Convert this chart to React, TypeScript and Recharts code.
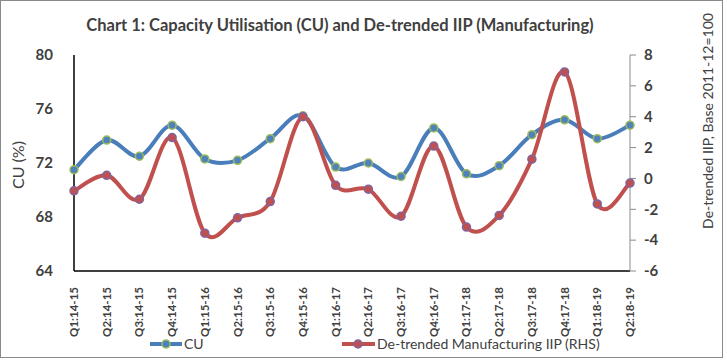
import { LineChart, Line, XAxis, YAxis, Legend } from "recharts";

const quarters = [
  "Q1:14-15", "Q2:14-15", "Q3:14-15", "Q4:14-15",
  "Q1:15-16", "Q2:15-16", "Q3:15-16", "Q4:15-16",
  "Q1:16-17", "Q2:16-17", "Q3:16-17", "Q4:16-17",
  "Q1:17-18", "Q2:17-18", "Q3:17-18", "Q4:17-18",
  "Q1:18-19", "Q2:18-19",
];
const cu = [
  71.5, 73.7, 72.5, 74.8, 72.3, 72.2, 73.8, 75.5, 71.7,
  72.0, 71.0, 74.6, 71.2, 71.8, 74.1, 75.2, 73.8, 74.8,
];
const iip = [
  -0.8, 0.2, -1.35, 2.65, -3.55, -2.55, -1.5, 4.0, -0.45,
  -0.7, -2.45, 2.1, -3.15, -2.4, 1.25, 6.9, -1.65, -0.3,
];
const cuTicks = [64, 68, 72, 76, 80];
const iipTicks = [-6, -4, -2, 0, 2, 4, 6, 8];

const data = quarters.map((q, i) => ({ q, cu: cu[i], iip: iip[i] }));

const FONT = "Lato, 'Open Sans', sans-serif";
const TEXT = "#404040";

// Excel-style smoothing (uniform Catmull-Rom as cubic Bezier)
function smoothCurve(context: any) {
  let pts: number[][] = [];
  return {
    areaStart() {},
    areaEnd() {},
    lineStart() {
      pts = [];
    },
    point(x: number, y: number) {
      pts.push([+x, +y]);
    },
    lineEnd() {
      if (!pts.length) return;
      context.moveTo(pts[0][0], pts[0][1]);
      for (let i = 0; i < pts.length - 1; i++) {
        const p0 = pts[i - 1] || pts[i];
        const p1 = pts[i];
        const p2 = pts[i + 1];
        const p3 = pts[i + 2] || p2;
        context.bezierCurveTo(
          p1[0] + (p2[0] - p0[0]) / 6,
          p1[1] + (p2[1] - p0[1]) / 6,
          p2[0] - (p3[0] - p1[0]) / 6,
          p2[1] - (p3[1] - p1[1]) / 6,
          p2[0],
          p2[1]
        );
      }
    },
  };
}

const XTick = (props: any) => {
  const { x, y, payload } = props;
  return (
    <text
      x={0}
      y={0}
      transform={`translate(${x + 4},${y + 8}) rotate(-90)`}
      textAnchor="end"
      fontSize={11.5}
      fontWeight={700}
      fill={TEXT}
      fontFamily={FONT}
    >
      {payload.value}
    </text>
  );
};

const LegendContent = () => (
  <div style={{ position: "relative", height: 24 }}>
    <svg width={727} height={24} style={{ position: "absolute", left: 0, top: 0 }}>
      <line x1={150} x2={182} y1={12} y2={12} stroke="#4a7ebb" strokeWidth={4} />
      <circle cx={166} cy={12} r={4} fill="#4f81bd" stroke="#9bbb59" strokeWidth={1.5} />
      <text x={184} y={17} fontSize={14} fill={TEXT} fontFamily={FONT}>CU</text>
      <line x1={342} x2={375} y1={12} y2={12} stroke="#c0504d" strokeWidth={4} />
      <circle cx={358} cy={12} r={4} fill="#c0504d" stroke="#8064a2" strokeWidth={1.5} />
      <text x={377} y={17} fontSize={14} fill={TEXT} fontFamily={FONT}>
        De-trended Manufacturing IIP (RHS)
      </text>
    </svg>
  </div>
);

export default function App() {
  return (
    <div style={{ position: "absolute", left: 0, top: 0, width: 727, height: 363, background: "#fff" }}>
      <div
        style={{
          position: "absolute",
          left: 0,
          top: 0,
          width: 721,
          height: 356,
          border: "1px solid #8a8a8a",
        }}
      />
      <svg width={727} height={40} style={{ position: "absolute", left: 0, top: 0 }}>
        <text
          x={340}
          y={31}
          textAnchor="middle"
          fontSize={16.5}
          fontWeight={700}
          fill={TEXT}
          fontFamily={FONT}
        >
          Chart 1: Capacity Utilisation (CU) and De-trended IIP (Manufacturing)
        </text>
      </svg>
      <LineChart
        width={727}
        height={363}
        data={data}
        margin={{ top: 55, right: 40, left: 20, bottom: 8 }}
        style={{ position: "absolute", left: 0, top: 0 }}
      >
        <XAxis
          dataKey="q"
          interval={0}
          height={60}
          tick={<XTick />}
          tickLine={false}
          axisLine={{ stroke: "#000", strokeWidth: 1.5 }}
        />
        <YAxis
          yAxisId="l"
          domain={[64, 80]}
          ticks={cuTicks}
          width={54}
          tickLine={false}
          axisLine={{ stroke: "#000", strokeWidth: 1.5 }}
          tick={{ fontSize: 15, fontWeight: 700, fill: TEXT, fontFamily: FONT }}
          tickMargin={15}
          label={{
            content: () => (
              <text
                x={0}
                y={0}
                transform="translate(24,165) rotate(-90)"
                textAnchor="middle"
                fontSize={16}
                fontWeight={400}
                fill={TEXT}
                fontFamily={FONT}
              >
                CU (%)
              </text>
            ),
          }}
        />
        <YAxis
          yAxisId="r"
          orientation="right"
          domain={[-6, 8]}
          ticks={iipTicks}
          width={57}
          tickSize={6}
          tickLine={{ stroke: "#8a8a8a" }}
          axisLine={{ stroke: "#8a8a8a" }}
          tick={{ fontSize: 15, fontWeight: 700, fill: TEXT, fontFamily: FONT }}
          tickMargin={8}
          label={{
            content: () => (
              <text
                x={0}
                y={0}
                transform="translate(713,121) rotate(-90)"
                textAnchor="middle"
                fontSize={14}
                fontWeight={400}
                fill={TEXT}
                fontFamily={FONT}
              >
                De-trended IIP, Base 2011-12=100
              </text>
            ),
          }}
        />
        <Legend
          verticalAlign="bottom"
          content={<LegendContent />}
          wrapperStyle={{ left: 0, width: 727, height: 24, bottom: 7 }}
        />
        <Line
          yAxisId="l"
          dataKey="cu"
          name="CU"
          type={smoothCurve as any}
          stroke="#4a7ebb"
          strokeWidth={4}
          dot={{ r: 4, fill: "#4f81bd", stroke: "#9bbb59", strokeWidth: 1.5 }}
          isAnimationActive={false}
        />
        <Line
          yAxisId="r"
          dataKey="iip"
          name="De-trended Manufacturing IIP (RHS)"
          type={smoothCurve as any}
          stroke="#c0504d"
          strokeWidth={4}
          dot={{ r: 4, fill: "#c0504d", stroke: "#8064a2", strokeWidth: 1.5 }}
          isAnimationActive={false}
        />
      </LineChart>
    </div>
  );
}
